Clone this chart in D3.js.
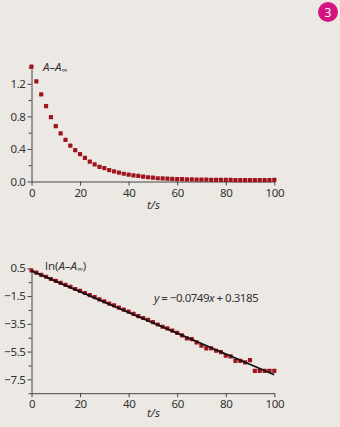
<!DOCTYPE html>
<html>
<head>
<meta charset="utf-8">
<script src="https://cdn.jsdelivr.net/npm/d3@7"></script>
<style>
body { margin: 0; background: #ece9e5; }
svg { display: block; }
text { font-family: "Noto Sans", "Open Sans", sans-serif; fill: #333; }
</style>
</head>
<body>
<script>
// time points, s
var times = [0,2,4,6,8,10,12,14,16,18,20,22,24,26,28,30,32,34,36,38,40,42,44,46,48,50,
             52,54,56,58,60,62,64,66,68,70,72,74,76,78,80,82,84,86,88,90,92,94,96,98,100];
// A - A_inf
var absValues = [1.41,1.23,1.07,0.925,0.79,0.68,0.59,0.51,0.44,0.385,0.335,0.29,0.245,0.21,0.18,0.165,0.14,0.125,0.11,0.095,0.085,0.075,0.068,0.06,0.052,0.047,
                 0.04,0.038,0.035,0.032,0.03,0.028,0.026,0.025,0.024,0.023,0.022,0.021,0.02,0.02,0.019,0.019,0.018,0.018,0.018,0.017,0.017,0.017,0.016,0.016,0.02];
// ln(A - A_inf)
var lnValues = [0.34,0.19,0.03,-0.11,-0.27,-0.40,-0.55,-0.70,-0.83,-0.99,-1.13,-1.28,-1.43,-1.57,-1.74,-1.88,-2.04,-2.17,-2.33,-2.48,-2.62,-2.78,-2.94,-3.08,-3.21,-3.38,
                -3.55,-3.71,-3.83,-3.99,-4.16,-4.33,-4.55,-4.60,-4.84,-5.08,-5.27,-5.27,-5.44,-5.54,-5.80,-5.85,-6.17,-6.17,-6.28,-6.12,-6.89,-6.89,-6.89,-6.89,-6.89];
var slope = -0.0749, intercept = 0.3185;

var xTicks = [0,20,40,60,80,100];
var topTicks = [0.0,0.4,0.8,1.2];
var topMinor = [0.2,0.6,1.0,1.4];
var botTicks = [0.5,-1.5,-3.5,-5.5,-7.5];
var botMinor = [-0.5,-2.5,-4.5,-6.5,-8.5];

var w = 340, h = 427;
var red = "#a0141e";

var svg = d3.select("body").append("svg").attr("width", w).attr("height", h);

var x1 = d3.scaleLinear().domain([0,100]).range([31.5,274.3]);
var y1 = d3.scaleLinear().domain([0,1.4]).range([181.5,67.5]);
var y2 = d3.scaleLinear().domain([-8.5,0.5]).range([393.2,268.3]);

var fmt = function(d) { return d3.format(".1f")(d).replace("-", "\u2212"); };

function drawAxes(g, yScale, major, minor, yAxisY) {
    g.append("g").attr("transform", "translate(0," + yAxisY + ")")
        .call(d3.axisBottom(x1).tickValues(xTicks).tickSize(4).tickPadding(3).tickSizeOuter(0));
    g.append("g").attr("transform", "translate(" + x1(0) + ",0)")
        .call(d3.axisLeft(yScale).tickValues(major).tickFormat(fmt).tickSize(4).tickPadding(2).tickSizeOuter(0));
    g.append("g").attr("transform", "translate(" + x1(0) + ",0)")
        .call(d3.axisLeft(yScale).tickValues(minor).tickFormat("").tickSize(3).tickSizeOuter(0))
        .select(".domain").remove();
    g.selectAll(".domain, .tick line").attr("stroke", "#444").attr("stroke-width", 1);
    g.selectAll(".tick text").attr("font-size", 11.5).attr("fill", "#333")
        .attr("letter-spacing", -0.4)
        .style("font-family", "'Noto Sans', sans-serif");
}

// top chart
var topG = svg.append("g");
drawAxes(topG, y1, topTicks, topMinor, y1(0));
topG.selectAll("rect.pt")
    .data(times)
    .enter()
    .append("rect")
    .attr("class", "pt")
    .attr("x", function(d) { return x1(d) - 2.1; })
    .attr("y", function(d, i) { return y1(absValues[i]) - 2.1; })
    .attr("width", 4.2)
    .attr("height", 4.2)
    .attr("rx", 0.6)
    .attr("fill", red);

var lab1 = topG.append("text").attr("x", 43).attr("y", 71).attr("font-size", 11.5).attr("font-style", "italic");
lab1.append("tspan").text("A\u2013A");
lab1.append("tspan").attr("font-size", 8).attr("dy", 2).text("\u221e");

topG.append("text").attr("x", 147).attr("y", 209).attr("font-size", 11.5).attr("font-style", "italic").text("t/s");

// bottom chart
var botG = svg.append("g");
drawAxes(botG, y2, botTicks, botMinor, y2(-8.5));
botG.selectAll("rect.pt")
    .data(times)
    .enter()
    .append("rect")
    .attr("class", "pt")
    .attr("x", function(d) { return x1(d) - 2.1; })
    .attr("y", function(d, i) { return y2(lnValues[i]) - 2.1; })
    .attr("width", 4.2)
    .attr("height", 4.2)
    .attr("rx", 0.6)
    .attr("fill", red);

var line = d3.line()
    .x(function(d) { return x1(d); })
    .y(function(d) { return y2(slope * d + intercept); });
botG.append("path")
    .datum([0,100])
    .attr("d", line)
    .attr("stroke", "#111")
    .attr("stroke-width", 1.8)
    .attr("fill", "none");

var lab2 = botG.append("text").attr("x", 45).attr("y", 270).attr("font-size", 11.5);
lab2.append("tspan").text("ln(");
lab2.append("tspan").attr("font-style", "italic").text("A\u2013A");
lab2.append("tspan").attr("font-size", 8).attr("dy", 2).attr("font-style", "italic").text("\u221e");
lab2.append("tspan").attr("dy", -2).text(")");

var eq = botG.append("text").attr("x", 154).attr("y", 302).attr("font-size", 11.5).attr("letter-spacing", -0.5);
eq.append("tspan").attr("font-style", "italic").text("y");
eq.append("tspan").text(" = \u22120.0749");
eq.append("tspan").attr("font-style", "italic").text("x");
eq.append("tspan").text(" + 0.3185");

botG.append("text").attr("x", 147).attr("y", 417).attr("font-size", 11.5).attr("font-style", "italic").text("t/s");

// badge
svg.append("circle").attr("cx", 328).attr("cy", 12).attr("r", 10).attr("fill", "#d4147f");
svg.append("text").attr("x", 328).attr("y", 16.5).attr("text-anchor", "middle")
    .attr("font-size", 12).style("fill", "#fff").text("3");
</script>
</body>
</html>
